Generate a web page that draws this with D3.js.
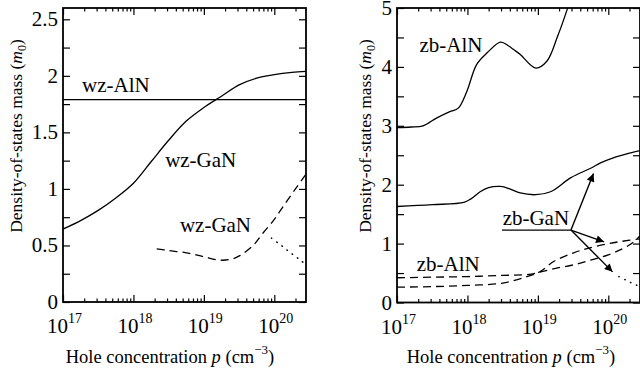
<!DOCTYPE html>
<html><head><meta charset="utf-8">
<script src="https://cdn.jsdelivr.net/npm/d3@7"></script>
<style>
html,body{margin:0;padding:0;background:#fff;}
</style></head>
<body><svg id="c" width="640" height="375"></svg>
<script>
// ---------- data (x as log10 of hole concentration p, y as DOS mass in m0) ----------
const xDomainLog = [17, 20.45];
const xMajorExp = [17, 18, 19, 20];

// left panel (wurtzite)
const yTicksLeft = [0, 0.5, 1, 1.5, 2, 2.5];
const yDomainLeft = [0, 2.6];
const wzAlN_logP = [17, 20.45];
const wzAlN_m    = [1.79, 1.79];
const wzGaN_logP = [17, 17.25, 17.5, 17.75, 18, 18.25, 18.5, 18.75, 19, 19.25, 19.5, 19.75, 20, 20.25, 20.45];
const wzGaN_m    = [0.645, 0.72, 0.81, 0.92, 1.05, 1.24, 1.43, 1.60, 1.72, 1.82, 1.92, 1.98, 2.01, 2.03, 2.04];
const wzGaNd_logP = [18.33, 18.5, 18.75, 19.0, 19.23, 19.4, 19.51, 19.7, 19.84, 20.0, 20.12, 20.3, 20.45];
const wzGaNd_m    = [0.47, 0.455, 0.435, 0.40, 0.37, 0.38, 0.41, 0.50, 0.61, 0.73, 0.84, 1.0, 1.13];
const wzGaNo_logP = [19.96, 20.1, 20.22, 20.35, 20.45];
const wzGaNo_m    = [0.565, 0.50, 0.44, 0.38, 0.33];

// right panel (zinc blende)
const yTicksRight = [0, 1, 2, 3, 4, 5];
const yDomainRight = [0, 5];
const zbAlN_logP = [17, 17.2, 17.37, 17.56, 17.75, 17.87, 17.99, 18.13, 18.28, 18.47, 18.58, 18.66, 18.75, 18.97, 19.13, 19.28, 19.42, 19.55];
const zbAlN_m    = [2.97, 2.98, 3.0, 3.13, 3.24, 3.30, 3.58, 4.04, 4.24, 4.42, 4.36, 4.29, 4.21, 3.98, 4.10, 4.52, 4.99, 5.5];
const zbGaN_logP = [17, 17.5, 17.95, 18.05, 18.18, 18.3, 18.47, 18.6, 18.75, 18.97, 19.18, 19.47, 19.75, 19.89, 20.08, 20.25, 20.45];
const zbGaN_m    = [1.63, 1.66, 1.70, 1.76, 1.88, 1.95, 1.97, 1.93, 1.86, 1.83, 1.88, 2.12, 2.28, 2.37, 2.46, 2.52, 2.58];
const zbAlNd_logP = [17, 17.5, 18, 18.5, 18.9, 19.04, 19.25, 19.51, 19.75, 20.0, 20.2, 20.35, 20.45];
const zbAlNd_m    = [0.42, 0.43, 0.44, 0.46, 0.48, 0.52, 0.58, 0.64, 0.72, 0.81, 0.91, 1.02, 1.13];
const zbGaNd_logP = [17, 17.5, 18, 18.5, 18.9, 19.04, 19.23, 19.5, 19.71, 20.0, 20.2, 20.45];
const zbGaNd_m    = [0.26, 0.27, 0.29, 0.33, 0.46, 0.53, 0.70, 0.84, 0.92, 1.0, 1.04, 1.08];
const zbGaNo_logP = [20.15, 20.25, 20.35, 20.45];
const zbGaNo_m    = [0.44, 0.38, 0.32, 0.27];

// ---------- drawing ----------
const svg = d3.select("#c");
const FF = "'Liberation Serif'";

function panel(opt) {
  const g = svg.append("g");
  const x = d3.scaleLog().domain(xDomainLog.map(e => Math.pow(10, e))).range([opt.x0, opt.x1]);
  const y = d3.scaleLinear().domain(opt.yDomain).range([opt.y0, opt.y1]);
  const clipId = "clip" + opt.id;
  svg.append("clipPath").attr("id", clipId).append("rect")
    .attr("x", opt.x0).attr("y", opt.y1).attr("width", opt.x1 - opt.x0).attr("height", opt.y0 - opt.y1);

  const minor = [];
  for (let e = 17; e <= 20; e++) for (let k = 2; k <= 9; k++) {
    const v = k * Math.pow(10, e);
    if (Math.log10(v) <= xDomainLog[1]) minor.push(v);
  }
  const major = xMajorExp.map(e => Math.pow(10, e));
  const bx = d3.axisBottom(x).tickValues(major).tickSize(-7).tickFormat("");
  const bxm = d3.axisBottom(x).tickValues(minor).tickSize(-3.5).tickFormat("");
  const tx = d3.axisTop(x).tickValues(major).tickSize(-7).tickFormat("");
  const txm = d3.axisTop(x).tickValues(minor).tickSize(-3.5).tickFormat("");
  [bx, bxm].forEach(a => g.append("g").attr("transform", `translate(0,${opt.y0})`).call(a));
  [tx, txm].forEach(a => g.append("g").attr("transform", `translate(0,${opt.y1})`).call(a));

  const yMinor = d3.range(opt.yDomain[0], opt.yDomain[1] + 1e-9, opt.yMinorStep);
  const lym = d3.axisLeft(y).tickValues(yMinor).tickSize(-7).tickFormat("");
  const ry = d3.axisRight(y).tickValues(yMinor).tickSize(-7).tickFormat("");
  g.append("g").attr("transform", `translate(${opt.x0},0)`).call(lym);
  g.append("g").attr("transform", `translate(${opt.x1},0)`).call(ry);
  g.selectAll(".domain").remove();
  g.selectAll(".tick line").attr("stroke", "#000").attr("stroke-width", 1.2);

  g.append("rect").attr("x", opt.x0).attr("y", opt.y1).attr("width", opt.x1 - opt.x0).attr("height", opt.y0 - opt.y1)
    .attr("fill", "none").attr("stroke", "#000").attr("stroke-width", 1.8);

  g.selectAll(".ylab").data(opt.yTicks).enter().append("text")
    .attr("x", opt.x0 - 5).attr("y", d => y(d) + 7).attr("text-anchor", "end")
    .style("font-family", FF).attr("font-size", 21).text(d => d);

  xMajorExp.forEach(e => {
    const t = g.append("text").attr("x", x(Math.pow(10, e)) - 16).attr("y", opt.y0 + 31)
      .style("font-family", FF).attr("font-size", 21);
    t.append("tspan").text("10");
    t.append("tspan").attr("dy", -10).attr("font-size", 14).text(e);
  });

  const yt = g.append("text").attr("transform", `translate(${opt.yTitleX},${opt.yTitleY}) rotate(-90)`)
    .attr("text-anchor", "middle").style("font-family", FF).attr("font-size", 17.5);
  yt.append("tspan").text("Density-of-states mass  (");
  yt.append("tspan").attr("font-style", "italic").text("m");
  yt.append("tspan").attr("font-size", 12).attr("dy", 4).text("0");
  yt.append("tspan").attr("dy", -4).text(")");

  const xt = g.append("text").attr("x", opt.xTitleX).attr("y", 363).attr("text-anchor", "middle")
    .style("font-family", FF).attr("font-size", 18.5);
  xt.append("tspan").text("Hole concentration ");
  xt.append("tspan").attr("font-style", "italic").text("p");
  xt.append("tspan").text("  (cm");
  xt.append("tspan").attr("dy", -9).attr("font-size", 13).text("\u22123");
  xt.append("tspan").attr("dy", 9).text(")");

  const line = d3.line().x(d => x(Math.pow(10, d[0]))).y(d => y(d[1])).curve(d3.curveCatmullRom.alpha(0.5));
  const plot = g.append("g").attr("clip-path", `url(#${clipId})`);
  function curve(lp, m, dash) {
    plot.append("path").datum(d3.zip(lp, m)).attr("d", line)
      .attr("fill", "none").attr("stroke", "#000").attr("stroke-width", dash === "dot" ? 1.5 : 1.3)
      .attr("stroke-linecap", dash === "dot" ? "round" : "butt")
      .attr("stroke-dasharray", dash === "dash" ? "8,5" : dash === "dot" ? "0.5,6" : null);
  }
  function label(lp, m, txt) {
    g.append("text").attr("x", x(Math.pow(10, lp))).attr("y", y(m))
      .style("font-family", FF).attr("font-size", 21).text(txt);
  }
  return { g, x, y, curve, label };
}

const L = panel({ id: "L", x0: 63, x1: 306, y0: 302, y1: 8, yDomain: yDomainLeft, yTicks: yTicksLeft, yMinorStep: 0.25,
  yTitleX: 22, yTitleY: 136, xTitleX: 170 });
L.curve(wzAlN_logP, wzAlN_m, null);
L.curve(wzGaN_logP, wzGaN_m, null);
L.curve(wzGaNd_logP, wzGaNd_m, "dash");
L.curve(wzGaNo_logP, wzGaNo_m, "dot");
L.label(17.27, 1.86, "wz-AlN");
L.label(18.45, 1.19, "wz-GaN");
L.label(18.66, 0.62, "wz-GaN");

const R = panel({ id: "R", x0: 397, x1: 640, y0: 302.5, y1: 8, yDomain: yDomainRight, yTicks: yTicksRight, yMinorStep: 0.5,
  yTitleX: 371, yTitleY: 136, xTitleX: 511 });
R.curve(zbAlN_logP, zbAlN_m, null);
R.curve(zbGaN_logP, zbGaN_m, null);
R.curve(zbAlNd_logP, zbAlNd_m, "dash");
R.curve(zbGaNd_logP, zbGaNd_m, "dash");
R.curve(zbGaNo_logP, zbGaNo_m, "dot");
R.label(17.32, 4.26, "zb-AlN");
R.label(17.28, 0.54, "zb-AlN");
R.label(18.5, 1.32, "zb-GaN");

// zb-GaN pointer annotation
const arrowOrigin = [19.47, 1.23];
const underlineStart = 18.49;
const arrowTips = [[19.79, 2.19], [19.94, 1.03], [20.06, 0.52]];
const px = lp => R.x(Math.pow(10, lp));
svg.append("defs").append("marker").attr("id", "ah").attr("viewBox", "0 0 10 10").attr("refX", 10).attr("refY", 5)
  .attr("markerWidth", 12).attr("markerHeight", 8).attr("markerUnits", "userSpaceOnUse").attr("orient", "auto")
  .append("path").attr("d", "M0,0 L10,5 L0,10 Z").attr("fill", "#000");
R.g.append("line").attr("x1", px(underlineStart)).attr("x2", px(arrowOrigin[0]))
  .attr("y1", R.y(arrowOrigin[1])).attr("y2", R.y(arrowOrigin[1])).attr("stroke", "#000").attr("stroke-width", 1.3);
arrowTips.forEach(t => {
  R.g.append("line").attr("x1", px(arrowOrigin[0])).attr("y1", R.y(arrowOrigin[1]))
    .attr("x2", px(t[0])).attr("y2", R.y(t[1])).attr("stroke", "#000").attr("stroke-width", 1.4)
    .attr("marker-end", "url(#ah)");
});
</script></body></html>
